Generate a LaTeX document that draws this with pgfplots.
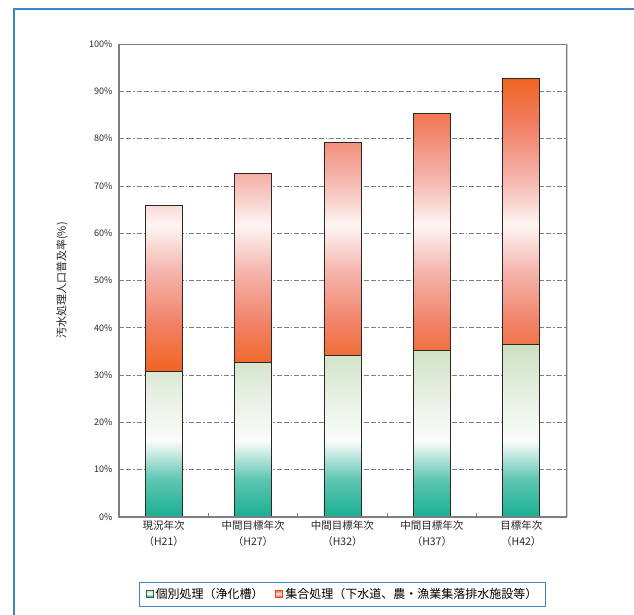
\documentclass[border=0pt]{standalone}
\usepackage{pgfplots}
\pgfplotsset{compat=1.18}
\usepackage{pgfplotstable}
\usepackage{fontspec}
\setmainfont{Noto Sans CJK JP}

\definecolor{frameblue}{RGB}{58,135,195}
\definecolor{axisgray}{RGB}{125,125,135}
\definecolor{legendgreen}{RGB}{45,100,80}
\definecolor{legendorange}{RGB}{225,75,30}
\definecolor{barline}{RGB}{45,40,38}
\definecolor{iA}{RGB}{25,175,145}
\definecolor{iB}{RGB}{95,198,178}
\definecolor{iC}{RGB}{250,252,250}
\definecolor{iD}{RGB}{232,240,228}
\definecolor{iE}{RGB}{204,224,194}
\definecolor{cA}{RGB}{240,100,32}
\definecolor{cB}{RGB}{241,128,100}
\definecolor{cC}{RGB}{245,180,172}
\definecolor{cD}{RGB}{253,245,243}
\definecolor{legendgreenfill}{RGB}{225,238,220}
\definecolor{legendorangefill}{RGB}{252,228,220}

% Bar fills: the path is fitted to the 25bp--75bp band of each shading
\pgfdeclareverticalshading{indivshade}{100bp}{%
  color(0bp)=(iA); color(25bp)=(iA); color(36bp)=(iB); color(47bp)=(iC);
  color(60bp)=(iD); color(75bp)=(iE); color(100bp)=(iE)}
\pgfdeclareverticalshading{collshade}{100bp}{%
  color(0bp)=(cA); color(25bp)=(cA); color(33bp)=(cB); color(42bp)=(cC);
  color(50bp)=(cD); color(58bp)=(cC); color(67bp)=(cB); color(75bp)=(cA);
  color(100bp)=(cA)}

% 汚水処理人口普及率 (%): individual treatment and collective treatment
\pgfplotstableread{
idx indiv collective
0 30.7 35.1
1 32.6 40.1
2 34.2 45.0
3 35.3 50.0
4 36.5 56.2
}\ratetable

\begin{document}
\begin{tikzpicture}
\useasboundingbox (0,0) rectangle (634bp,615bp);
\draw[frameblue, line width=1.5bp] (634bp,606bp) -- (14bp,606bp) -- (14bp,0bp);
\begin{axis}[
  at={(119bp,98bp)}, anchor=south west,
  scale only axis, width=447bp, height=473bp,
  ybar stacked, bar width=37bp,
  xmin=-0.5, xmax=4.5, ymin=0, ymax=100,
  tick pos=left,
  xtick={0,...,4},
  xticklabels={{現況年次\\（H21）},{中間目標年次\\（H27）},{中間目標年次\\（H32）},{中間目標年次\\（H37）},{目標年次\\（H42）}},
  xticklabel style={align=center, font=\fontsize{10.5bp}{16bp}\selectfont, text=black!85},
  minor xtick={0.5,1.5,2.5,3.5},
  major tick length=0pt,
  minor tick length=4bp,
  minor tick style={axisgray, line width=0.8bp},
  ytick={0,10,...,100},
  yticklabels={0\%,10\%,20\%,30\%,40\%,50\%,60\%,70\%,80\%,90\%,100\%},
  yticklabel style={font=\fontsize{9bp}{10bp}\selectfont, text=black!85, xshift=-3bp},
  ymajorgrids,
  major grid style={axisgray, line width=0.7bp, dash pattern=on 5bp off 2bp on 5bp off 2bp on 1.5bp off 2bp},
  axis line style={axisgray, line width=0.8bp},
  ylabel={汚水処理人口普及率(\%)},
  ylabel style={at={(axis description cs:-0.1275,0.5)}, anchor=center, font=\fontsize{11bp}{12bp}\selectfont, text=black!85},
  legend columns=2,
  legend style={at={(axis description cs:0.5,-0.137)}, anchor=north,
    draw=frameblue, line width=1bp, font=\fontsize{12bp}{14bp}\selectfont,
    inner xsep=6bp, inner ysep=4bp,
    /tikz/every even column/.append style={column sep=10bp}},
  after end axis/.code={
    \draw[axisgray, line width=2bp] (rel axis cs:0,1) -- (rel axis cs:0,0) -- (rel axis cs:1,0);
    \draw[black!20, line width=1.5bp] ([xshift=1.5bp]rel axis cs:1,1) -- ([xshift=1.5bp]rel axis cs:1,0);
  },
]
\addplot[draw=barline, line width=0.9bp, shading=indivshade,
  legend image code/.code={\draw[line width=1bp, draw=legendgreen, fill=legendgreenfill] (0bp,-3bp) rectangle (7bp,4bp);}]
  table[x=idx, y=indiv] {\ratetable};
\addlegendentry{個別処理（浄化槽）}
\addplot[draw=barline, line width=0.9bp, shading=collshade,
  legend image code/.code={\draw[line width=1bp, draw=legendorange, fill=legendorangefill] (0bp,-3bp) rectangle (7bp,4bp);}]
  table[x=idx, y=collective] {\ratetable};
\addlegendentry{集合処理（下水道、農・漁業集落排水施設等）}
\end{axis}
\end{tikzpicture}
\end{document}
